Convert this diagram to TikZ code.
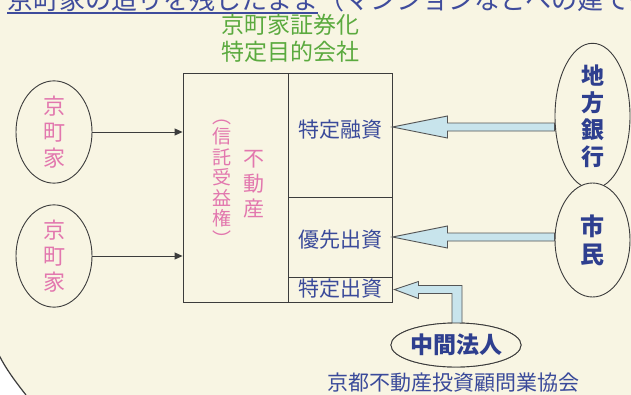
\documentclass[tikz,border=0pt]{standalone}
\usepackage{fontspec}
\newfontfamily\jp{Noto Sans CJK JP}
\usetikzlibrary{shapes.geometric,arrows.meta,calc}
\definecolor{cream}{HTML}{F8F5E3}
\definecolor{linegray}{HTML}{3C3C3C}
\definecolor{titlegreen}{HTML}{5BAA3F}
\definecolor{pinktxt}{HTML}{E277AE}
\definecolor{navy}{HTML}{3A4A9A}
\definecolor{navybold}{HTML}{2E3F8F}
\definecolor{arrowfill}{HTML}{C8E4EC}
\definecolor{arrowline}{HTML}{555555}
\definecolor{topblue}{HTML}{3F4C9C}
\tikzset{
  oval/.style={ellipse, draw=linegray, line width=0.9pt, fill=cream, inner sep=0pt, align=center},
  cellbox/.style={rectangle, draw=linegray, line width=0.9pt, inner sep=0pt},
  pinkv/.style={text=pinktxt, align=center, inner sep=0pt},
  navytxt/.style={text=navy, inner sep=0pt},
  boldv/.style={text=navybold, align=center, inner sep=0pt},
  thinarr/.style={draw=linegray, line width=0.9pt, -{Triangle[length=8pt,width=7pt]}},
  barrow/.style={draw=arrowline, line width=0.9pt, fill=arrowfill, line join=miter},
  frameline/.style={draw=linegray, line width=1.2pt}
}
\newcommand\blockarr[2]{\draw[barrow] ($(#1)+(0,-4)$) -- ($(#2)+(55,-4)$) -- ($(#2)+(55,-11)$) -- (#2) -- ($(#2)+(55,11)$) -- ($(#2)+(55,4)$) -- ($(#1)+(0,4)$) -- cycle;}
\begin{document}
\begin{tikzpicture}[x=1pt,y=-1pt]
\useasboundingbox (0,0) rectangle (631,394);
\clip (0,0) rectangle (631,394);
\fill[white] (0,0) rectangle (631,394);
\fill[cream] (-1,-1) -- (632,-1) -- (632,395) -- (26,395) .. controls (15,381) and (6,369) .. (-1,355) -- cycle;
\draw[frameline] (26,395) .. controls (15,381) and (6,369) .. (-1,355);

% headline (cut at top)
\node[anchor=base west, inner sep=0pt, text=topblue, font=\jp\fontsize{26}{30}\selectfont] (headline) at (7,9) {京町家の造りを残したまま（マンションなどへの建て替えではなく）};
\draw[topblue, line width=1.3pt] ($(headline.base west)+(0,4)$) -- ++(311,0);

% title
\node[text=titlegreen, align=center, font=\jp\fontsize{23}{27}\selectfont] (title) at (290,38.5) {京町家証券化\\特定目的会社};

% main box
\node[cellbox, minimum width=105pt, minimum height=229pt] (left) at (235.5,187.5) {};
\node[cellbox, minimum width=104pt, minimum height=124pt] (c1) at (340,135) {};
\node[cellbox, minimum width=104pt, minimum height=80pt] (c2) at (340,237) {};
\node[cellbox, minimum width=104pt, minimum height=25pt] (c3) at (340,289.5) {};

\node[pinkv, font=\jp\fontsize{21}{25}\selectfont] (fudosan) at (254,184) {不\\動\\産};
\node[pinkv, font=\jp\fontsize{19}{20.5}\selectfont] (shintaku) at (222,183) {︵\\信\\託\\受\\益\\権\\︶};

\node[navytxt, font=\jp\fontsize{21}{25}\selectfont] (t1txt) at (340,130) {特定融資};
\node[navytxt, font=\jp\fontsize{21}{25}\selectfont] (t2txt) at (340,240) {優先出資};
\node[navytxt, font=\jp\fontsize{21}{25}\selectfont] (t3txt) at (340,289) {特定出資};

% left ellipses
\node[oval, minimum width=76pt, minimum height=101pt, pinkv, font=\jp\fontsize{22}{26}\selectfont] (k1) at (54,132) {京\\町\\家};
\node[oval, minimum width=76pt, minimum height=102pt, pinkv, font=\jp\fontsize{22}{26}\selectfont] (k2) at (54,256) {京\\町\\家};
\draw[thinarr] (k1.east) -- (k1.east -| left.west);
\draw[thinarr] (k2.east) -- (k2.east -| left.west);

% right side block arrows
\coordinate (t1) at ($(c1.east)+(0,-8)$);
\coordinate (t2) at ($(c2.east)+(0,0)$);
\coordinate (t3) at ($(c3.east)+(2,0)$);

\node[oval, minimum width=75pt, minimum height=118pt, boldv, font=\jp\bfseries\fontsize{23}{27}\selectfont] (bank) at (592.5,116) {地\\方\\銀\\行};
\node[oval, minimum width=75pt, minimum height=114pt, boldv, font=\jp\bfseries\fontsize{24}{28}\selectfont] (citizen) at (592.5,240) {市\\民};

\coordinate (s1) at (bank.west |- t1);
\coordinate (s2) at (citizen.west |- t2);
\blockarr{s1}{t1}
\blockarr{s2}{t2}

% bent arrow from 中間法人
\node[oval, minimum width=120pt, minimum height=44pt, boldv, font=\jp\bfseries\fontsize{23}{27}\selectfont] (cj) at (456,345) {中間法人};
\draw[barrow] ($(cj.north)+(-4,1)$) |- ($(t3)+(24,4)$) -- ($(t3)+(24,9)$) -- (t3) -- ($(t3)+(24,-8)$) -- ($(t3)+(24,-4)$) -| ($(cj.north)+(6,1)$) -- cycle;
\node[oval, minimum width=120pt, minimum height=44pt, boldv, font=\jp\bfseries\fontsize{23}{27}\selectfont] at (cj) {中間法人};

\node[navytxt, font=\jp\fontsize{21}{25}\selectfont] (assoc) at (453,383) {京都不動産投資顧問業協会};
\end{tikzpicture}
\end{document}
